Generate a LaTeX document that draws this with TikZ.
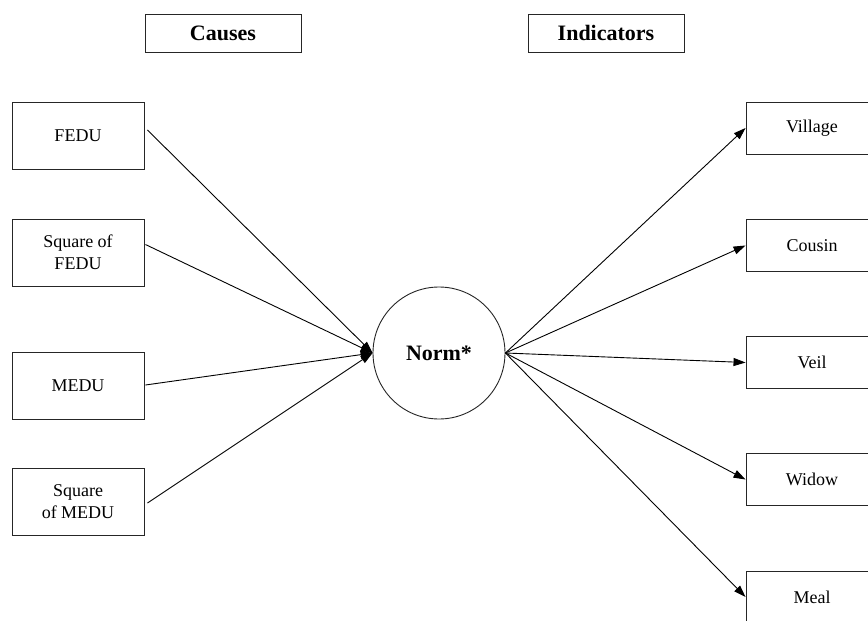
\documentclass[tikz,border=0pt]{standalone}
\usepackage{fontspec}
\setmainfont{Liberation Serif}
\usetikzlibrary{arrows.meta}
\tikzset{
  px/.style={x=1pt,y=-1pt},
  titlebox/.style={draw=black!85,line width=0.9pt,minimum width=156pt,minimum height=38pt,inner sep=0pt,font=\fontsize{22}{24}\selectfont\bfseries},
  causebox/.style={draw=black!85,line width=0.9pt,minimum width=132pt,minimum height=67pt,inner sep=0pt,align=center,font=\fontsize{18}{22}\selectfont},
  indbox/.style={draw=black!85,line width=0.9pt,minimum width=132pt,minimum height=52pt,inner sep=0pt,font=\fontsize{18}{22}\selectfont},
  latent/.style={draw=black!85,line width=0.9pt,circle,minimum size=132pt,inner sep=0pt,font=\fontsize{22}{24}\selectfont\bfseries},
  link/.style={line width=0.9pt,-{Triangle[length=12pt,width=8pt]}}
}
\begin{document}
\begin{tikzpicture}[px]
\clip (0,0) rectangle (868,621);
\fill[white] (0,0) rectangle (868,621);
\node[titlebox] (causes) at (223,33) {Causes};
\node[titlebox] (indicators) at (606,33) {Indicators};
\node[causebox] (fedu) at (78,135.5) {FEDU};
\node[causebox] (sqfedu) at (78,252.5) {Square of\\FEDU};
\node[causebox] (medu) at (78,386) {MEDU};
\node[causebox] (sqmedu) at (78,502) {Square\\of MEDU};
\node[latent] (norm) at (439,353) {Norm*};
\node[indbox] (village) at (812,128) {Village};
\node[indbox] (cousin) at (812,245.5) {Cousin};
\node[indbox] (veil) at (812,362.5) {Veil};
\node[indbox] (widow) at (812,479.5) {Widow};
\node[indbox] (meal) at (812,597) {Meal};
\draw[link] ([xshift=3pt,yshift=5.5pt]fedu.east) -- (norm.west);
\draw[link] ([xshift=1pt,yshift=8pt]sqfedu.east) -- (norm.west);
\draw[link] ([xshift=1pt,yshift=1pt]medu.east) -- (norm.west);
\draw[link] ([xshift=3pt,yshift=-1pt]sqmedu.east) -- (norm.west);
\draw[link] (norm.east) -- (village.west);
\draw[link] (norm.east) -- (cousin.west);
\draw[link] (norm.east) -- (veil.west);
\draw[link] (norm.east) -- (widow.west);
\draw[link] (norm.east) -- (meal.west);
\end{tikzpicture}
\end{document}
